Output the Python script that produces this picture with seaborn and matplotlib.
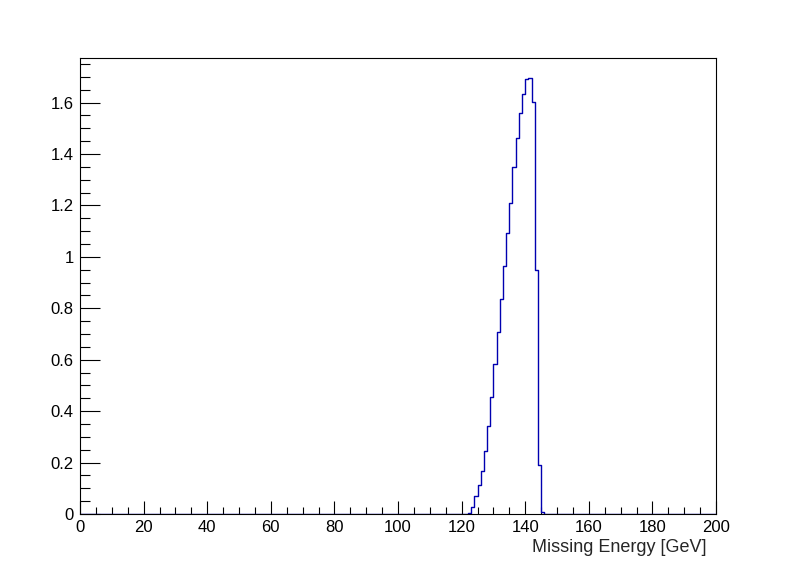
import numpy as np
import pandas as pd
import matplotlib
matplotlib.use("Agg")
import matplotlib.pyplot as plt
from matplotlib.ticker import MultipleLocator, FuncFormatter
import seaborn as sns

# Histogram data: lower edge of each 1 GeV bin and its content (all other bins are 0)
bin_low_edges = [122, 123, 124, 125, 126, 127, 128, 129, 130, 131, 132, 133,
                 134, 135, 136, 137, 138, 139, 140, 141, 142, 143, 144, 145]
bin_contents = [0.003, 0.029, 0.071, 0.112, 0.166, 0.244, 0.342, 0.453, 0.582, 0.706, 0.835, 0.963,
                1.092, 1.209, 1.349, 1.462, 1.559, 1.633, 1.691, 1.695, 1.602, 0.948, 0.191, 0.006]
x_range = (0, 200)
bin_width = 1
x_label = "Missing Energy [GeV]"

sns.set_style("white")
plt.rcParams['font.family'] = ['Liberation Sans', 'DejaVu Sans']

df = pd.DataFrame({"energy": np.array(bin_low_edges, dtype=float) + 0.5,
                   "w": np.array(bin_contents, dtype=float)})

fig = plt.figure(figsize=(7.96, 5.72), dpi=100)
ax = fig.add_axes([80/796, 1 - 514/572, 636/796, (514 - 57.5)/572])

sns.histplot(data=df, x="energy", weights="w", binwidth=bin_width, binrange=x_range,
             element="step", fill=False, color="#0000b0", linewidth=1.0, ax=ax)

ax.set_xlim(*x_range)
ax.set_ylim(0, 1.775)

ax.xaxis.set_major_locator(MultipleLocator(20))
ax.xaxis.set_minor_locator(MultipleLocator(5))
ax.yaxis.set_major_locator(MultipleLocator(0.2))
ax.yaxis.set_minor_locator(MultipleLocator(0.05))
ax.yaxis.set_major_formatter(FuncFormatter(lambda v, p: "%g" % round(v, 3)))
ax.xaxis.set_major_formatter(FuncFormatter(lambda v, p: "%g" % v))

ax.tick_params(axis='x', which='major', direction='in', length=9.5, width=0.8, labelsize=12,
               pad=4.5, bottom=True, top=False, colors='black')
ax.tick_params(axis='x', which='minor', direction='in', length=5, width=0.8, bottom=True, top=False,
               colors='black')
ax.tick_params(axis='y', which='major', direction='in', length=14.5, width=0.8, labelsize=12,
               pad=4.5, left=True, right=False, colors='black')
ax.tick_params(axis='y', which='minor', direction='in', length=7.2, width=0.8, left=True, right=False,
               colors='black')

for s in ax.spines.values():
    s.set_visible(True)
    s.set_color('black')
    s.set_linewidth(0.8)
    s.set_zorder(5)

ax.set_ylabel("")
ax.set_xlabel(x_label, fontsize=13, ha='right', va='center')
ax.xaxis.set_label_coords((707 - 80) / 636, -(548 - 514) / 456.5)
ax.grid(False)

fig.savefig("out.png", dpi=100, facecolor='white')
